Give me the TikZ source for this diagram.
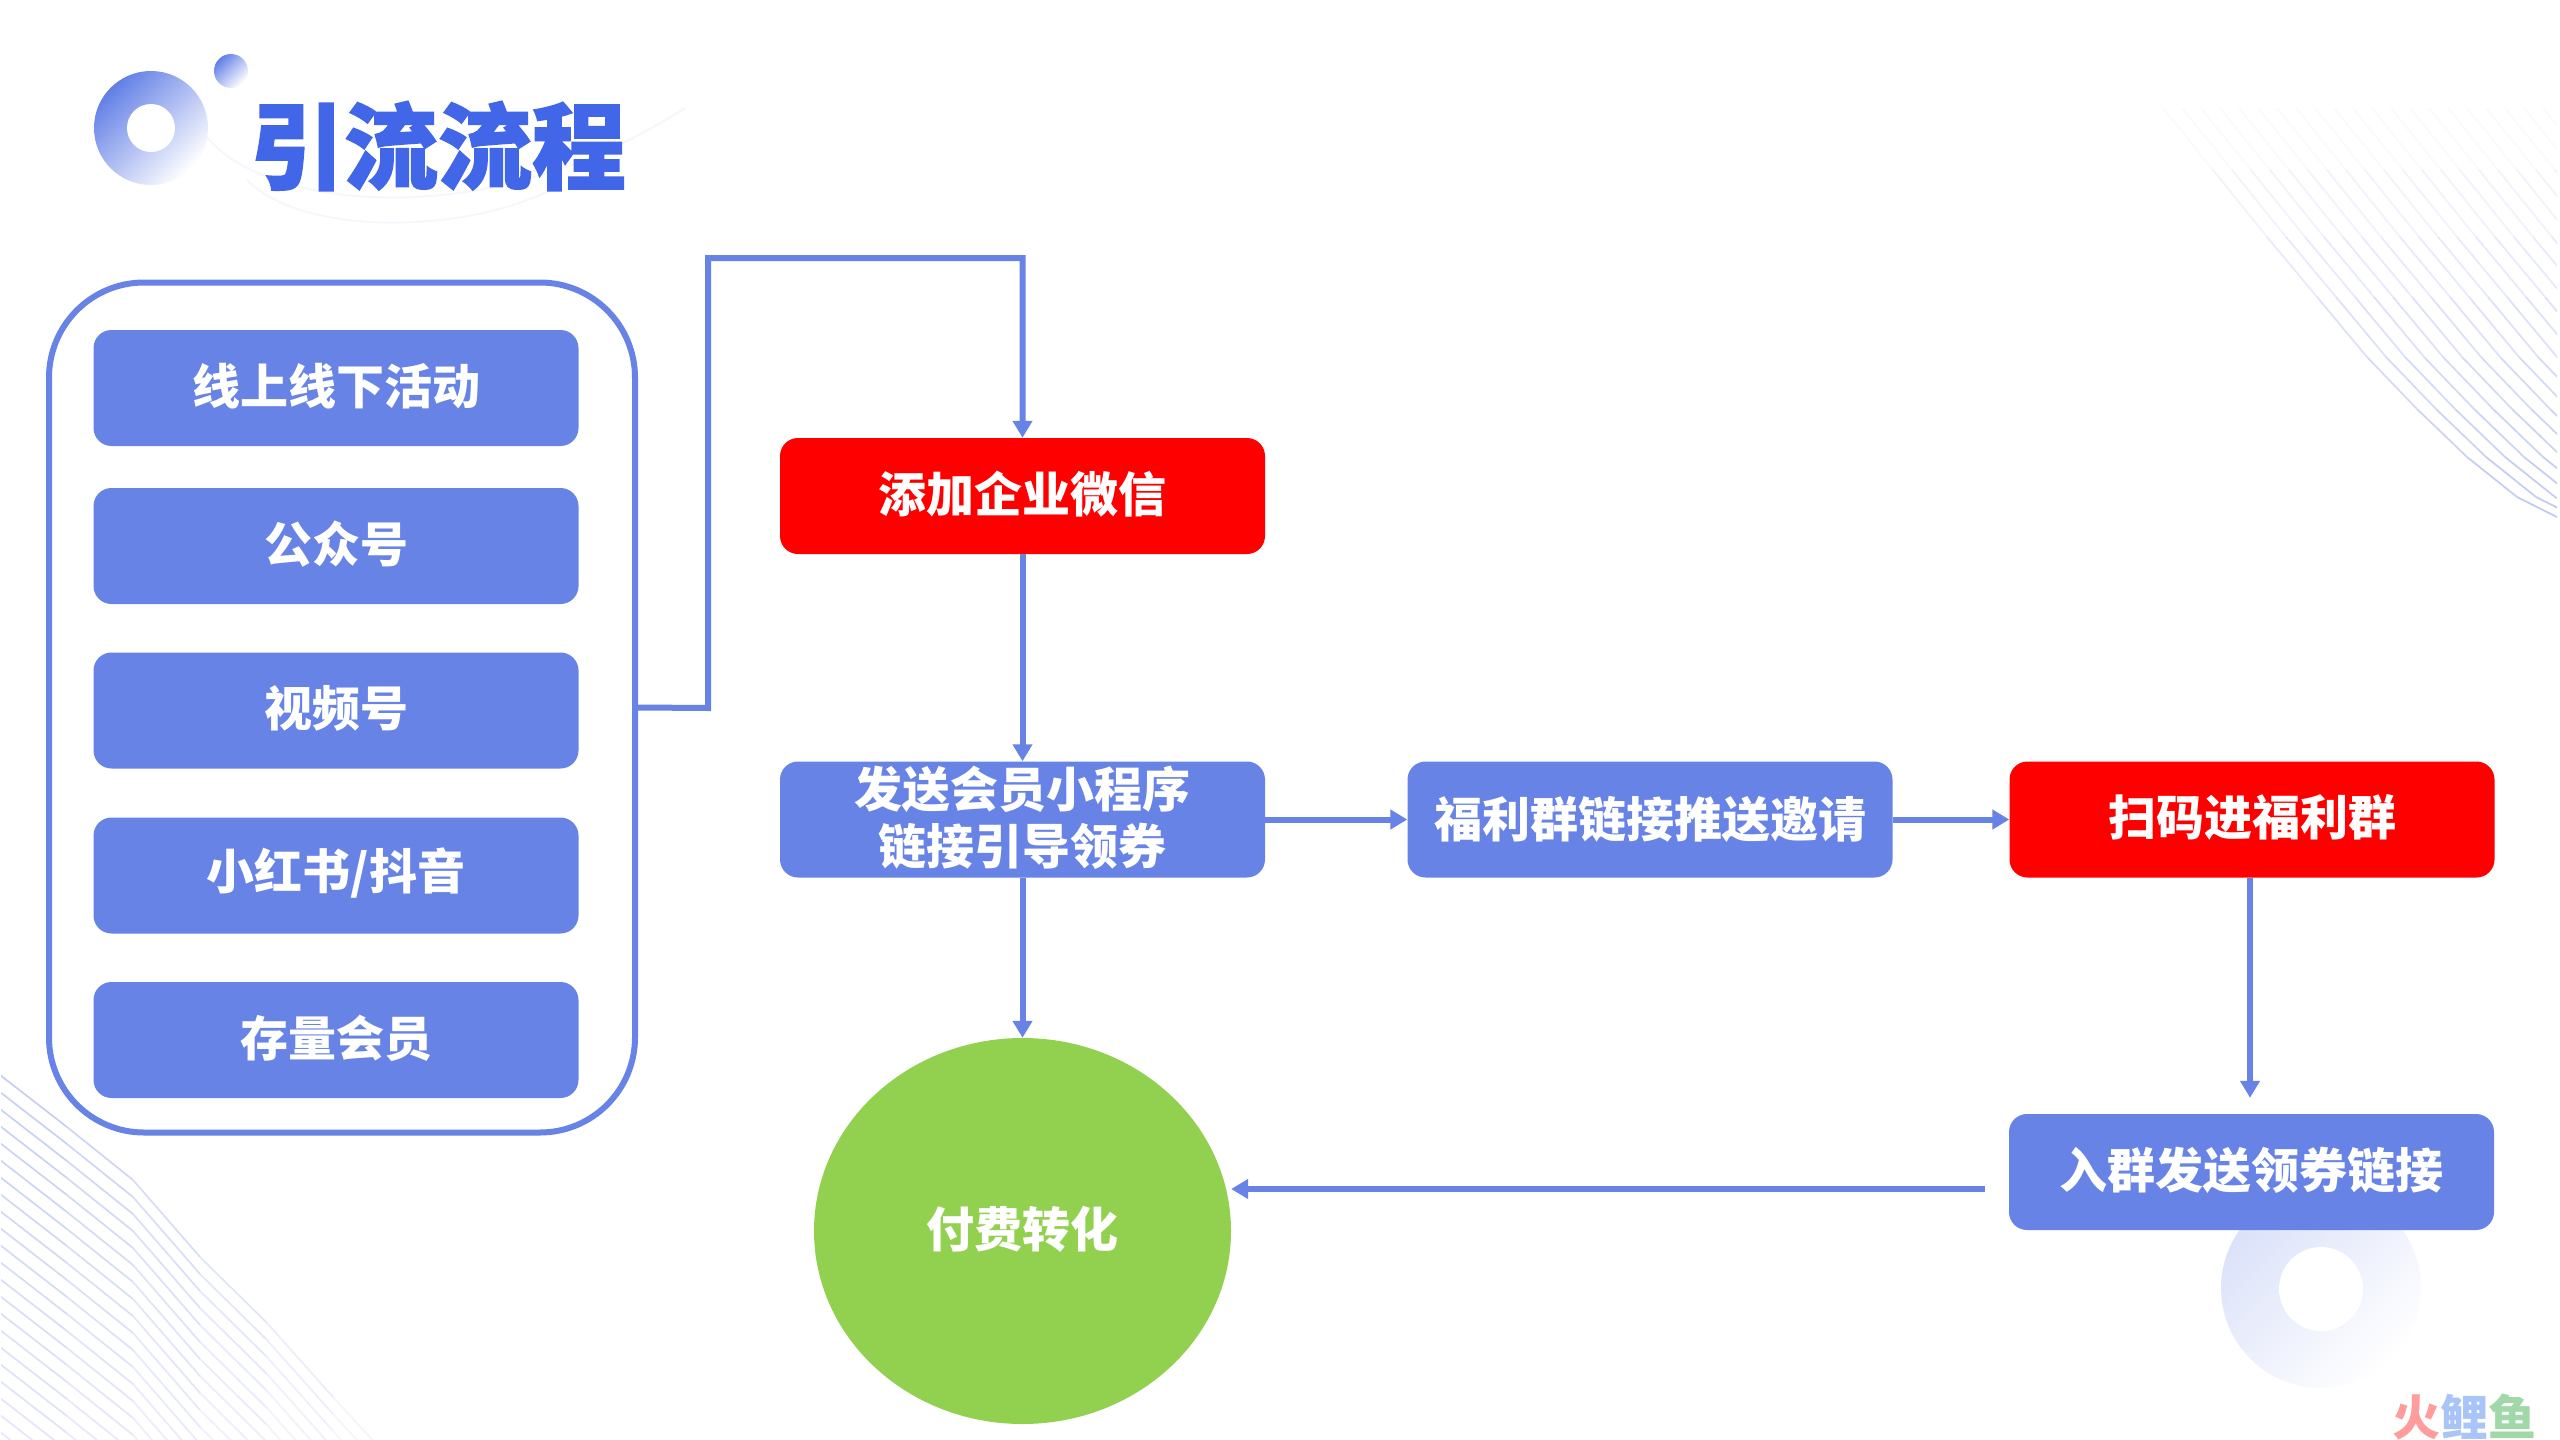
\documentclass[tikz,border=0pt]{standalone}
\usepackage{fontspec}
\setmainfont{Noto Sans CJK SC}
\newfontfamily\heavyfont{Noto Sans CJK SC}[FakeBold=1.6]
\usetikzlibrary{arrows.meta,shapes.geometric,calc}
\definecolor{mainblue}{HTML}{6783E6}
\definecolor{titleblue}{HTML}{4166E8}
\definecolor{strongred}{HTML}{FF0000}
\definecolor{paygreen}{HTML}{92D050}
\definecolor{hairline}{HTML}{B4BEEE}
\definecolor{swoosh}{HTML}{F6F7FD}
\newcommand\liftup[1]{\raisebox{2pt}[\height][\depth]{#1}}
\tikzset{
  flowbox/.style={rectangle,rounded corners=18pt,minimum width=485pt,minimum height=116pt,inner sep=0pt,
    text=white,align=center,font=\bfseries\fontsize{48}{57}\selectfont},
  bluebox/.style={flowbox,fill=mainblue},
  redbox/.style={flowbox,fill=strongred},
  payshape/.style={ellipse,fill=paygreen,minimum width=417pt,minimum height=386pt,inner sep=0pt,
    text=white,font=\bfseries\fontsize{48}{56}\selectfont},
  frame/.style={rectangle,rounded corners=95pt,draw=mainblue,line width=6pt,minimum width=586pt,minimum height=850pt,inner sep=0pt},
  link/.style={draw=mainblue,line width=6pt,-{Triangle[length=17pt,width=19pt]}},
  hair/.style={line width=1.7pt,line cap=butt}
}
\begin{document}
\begin{tikzpicture}[x=1pt,y=-1pt]
\useasboundingbox (0,0) rectangle (2560,1440);
\fill[white] (0,0) rectangle (2560,1440);
% swooshes behind the title
\draw[swoosh,line width=2pt] (207,137) .. controls (260,205) and (480,240) .. (685,108);
\draw[swoosh,line width=2pt] (247,180) .. controls (300,235) and (460,235) .. (551,190);
% top right hatch
\begin{scope}
\clip (2140,108) rectangle (2557,530);
\foreach \i in {0,...,20}{
  \foreach \ax/\ay/\bx/\by in {0/0/50/62,50/62/104/129,104/129/154/189,154/189/204/249,204/249/254/301,254/301/304/349,304/349/354/389,354/389/394/409,394/409/434/425}{
    \pgfmathsetmacro{\p}{max(8,min(85,(\ay+\by)/2/409*85))}
    \draw[hair,draw=hairline!\p!white] (2163+19*\i+\ax,108+\ay) -- (2163+19*\i+\bx,108+\by);
  }
}
\end{scope}
% bottom left hatch
\begin{scope}
\clip (1,1070) rectangle (400,1440);
\foreach \i in {0,...,22}{
  \foreach \ax/\ay/\bx/\by in {0/0/67/52,67/52/133/105,133/105/200/182,200/182/267/248,267/248/333/322,333/322/400/395}{
    \pgfmathsetmacro{\p}{max(8,min(80,80*(1-((\ay+\by)/2+17*\i+(\ax+\bx)/2*0.6)/720)))}
    \draw[hair,draw=hairline!\p!white] (\ax,1075+17*\i+\ay) -- (\bx,1075+17*\i+\by);
  }
}
\end{scope}
% title badge
\shade[shading=axis,left color=mainblue!85!titleblue,right color=white,shading angle=45] (151,128) circle (57);
\fill[white] (151,128) circle (24);
\shade[shading=axis,left color=mainblue!85!titleblue,right color=white,shading angle=45] (231,71) circle (17);
\node[text=titleblue,inner sep=0pt,font=\heavyfont\bfseries\fontsize{94}{94}\selectfont] (title) at (438,146) {引流流程};
% lower ring, beneath the invite box
\shade[shading=axis,left color=mainblue!24!white,right color=white,shading angle=45] (2321,1288) circle (100);
\fill[white] (2321,1289) circle (42);
% source frame
\node[frame] (outer) at (342,707.5) {};
\node[bluebox] (s1) at (336,388) {\liftup{线上线下活动}};
\node[bluebox] (s2) at (336,546) {\liftup{公众号}};
\node[bluebox] (s3) at (336,710.5) {\liftup{视频号}};
\node[bluebox] (s4) at (336,875.5) {\liftup{小红书/抖音}};
\node[bluebox] (s5) at (336,1040) {\liftup{存量会员}};
% flow
\node[redbox] (add) at (1022.5,496) {\liftup{添加企业微信}};
\node[bluebox] (send) at (1022.5,819.5) {\liftup{发送会员小程序}\\\liftup{链接引导领券}};
\node[bluebox] (push) at (1650,819.5) {福利群链接推送邀请};
\node[redbox] (scan) at (2252,819.5) {\liftup{扫码进福利群}};
\node[bluebox] (invite) at (2251.5,1172) {\liftup{入群发送领券链接}};
\node[payshape] (pay) at (1022.5,1231) {\liftup{付费转化}};
\coordinate (turnA) at (708,708);
\coordinate (turnB) at (708,258);
\coordinate (scanout) at ([xshift=-2pt]scan.south);
\coordinate (invitein) at ([xshift=-1.5pt,yshift=16pt]invite.north);
\coordinate (inviteout) at (1985,1189);
\draw[link,line join=miter] (outer.east) -- (turnA) -- (turnB) -| (add.north);
\draw[link] (add.south) -- (send.north);
\draw[link] (send.south) -- (pay.north);
\draw[link] (send.east) -- (push.west);
\draw[link] (push.east) -- (scan.west);
\draw[link] (scanout) -- (invitein);
\draw[link] (inviteout) -- (inviteout -| pay.east);
% watermark
\node[inner sep=0pt,font=\bfseries\fontsize{48}{48}\selectfont,anchor=center] (logo) at (2464,1417) {\textcolor[HTML]{FF9C9C}{火}\textcolor[HTML]{A8C4F8}{鲤}\textcolor[HTML]{A0D8A8}{鱼}};
\end{tikzpicture}
\end{document}
